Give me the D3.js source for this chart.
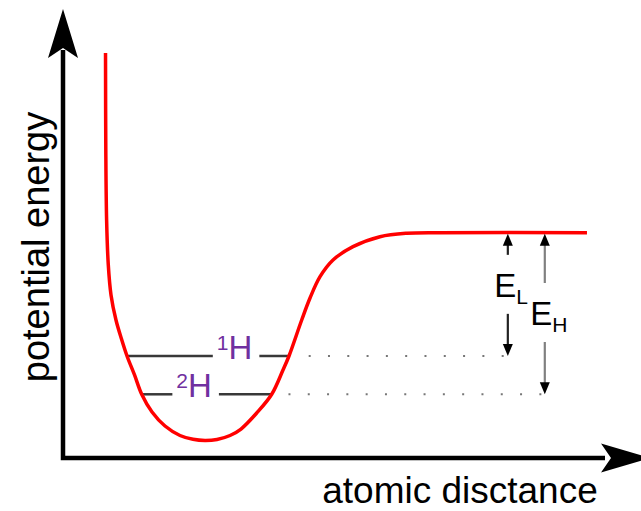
<!DOCTYPE html>
<html>
<head>
<meta charset="utf-8">
<script src="https://cdn.jsdelivr.net/npm/d3@7"></script>
<style>
  html, body { margin: 0; padding: 0; background: #fff; }
  svg { display: block; }
  text { font-family: "Liberation Sans", Arial, Helvetica, sans-serif; }
</style>
</head>
<body>
<script>
// ---- data (abstract units: distance 0..10, energy 0..10) ----
const curveX = [0.736, 0.741, 0.755, 0.784, 0.831, 0.917, 1.013, 1.108, 1.238, 1.362, 1.541, 1.766, 2.025, 2.25, 2.458,
                2.666, 2.891, 3.081, 3.353, 3.613, 3.808, 3.912, 4.132, 4.276, 4.449, 4.674, 5.02, 5.487, 5.949, 6.526, 9.07];
const curveY = [9.04, 6.875, 5.31, 4.31, 3.64, 3.08, 2.655, 2.277, 1.853, 1.422, 1.027, 0.714, 0.502, 0.417, 0.39,
                0.413, 0.502, 0.647, 1.004, 1.422, 1.964, 2.277, 3.08, 3.571, 4.047, 4.42, 4.717, 4.94, 5.016, 5.029, 5.029];

const isotopes     = ["1", "2"];          // mass numbers
const isotopeSym   = ["H", "H"];
const levelEnergy  = [2.277, 1.422];      // zero-point levels
const levelLeftX   = [1.108, 1.362];      // where level meets curve (left)
const levelRightX  = [3.912, 3.613];      // where level meets curve (right)
const labelCenterX = [2.97, 2.27];
const dotStartX    = [4.27, 3.92];

const dissocEnergy = 5.029;
const energyNames  = ["L", "H"];          // E_L, E_H
const energyArrowX = [7.70, 8.34];
const energyLevelIdx = [0, 1];

const xTitle = "atomic disctance";
const yTitle = "potential energy";

// ---- layout ----
const W = 641, H = 511;
const xs = d3.scaleLinear().domain([0, 10]).range([63, 640.7]);
const ys = d3.scaleLinear().domain([0, 10]).range([458, 10]);

const svg = d3.select("body").append("svg").attr("width", W).attr("height", H);
svg.append("rect").attr("width", W).attr("height", H).attr("fill", "#fff");

// axes
const ox = xs(0), oy = ys(0);
svg.append("path")
  .attr("d", `M${ox},50 V${oy} H605`)
  .attr("fill", "none").attr("stroke", "#000").attr("stroke-width", 4.5)
  .attr("stroke-linejoin", "miter");
svg.append("path")
  .attr("d", `M${ox},9 L${ox + 15},58 L${ox},48 L${ox - 15},58 Z`)
  .attr("fill", "#000");
svg.append("path")
  .attr("d", `M650,${oy} L601,${oy - 14.5} L611,${oy} L601,${oy + 14.5} Z`)
  .attr("fill", "#000");

// axis titles
svg.append("text").attr("x", 460).attr("y", 503).attr("text-anchor", "middle")
  .attr("font-size", 37).attr("fill", "#000").text(xTitle);
svg.append("text").attr("transform", "translate(48.5,247) rotate(-90)")
  .attr("text-anchor", "middle").attr("font-size", 38).attr("fill", "#000").text(yTitle);

// dotted extensions
isotopes.forEach((iso, i) => {
  const ai = energyLevelIdx.indexOf(i);
  svg.append("line")
    .attr("x1", xs(dotStartX[i]) - 1).attr("x2", xs(energyArrowX[ai]))
    .attr("y1", ys(levelEnergy[i])).attr("y2", ys(levelEnergy[i]))
    .attr("stroke", "#777").attr("stroke-width", 2)
    .attr("stroke-dasharray", "2 17.3");
});

// level labels and lines
isotopes.forEach((iso, i) => {
  const y = ys(levelEnergy[i]);
  const t = svg.append("text")
    .attr("x", xs(labelCenterX[i])).attr("y", y + 3)
    .attr("text-anchor", "middle").attr("fill", "#7030a0");
  t.append("tspan").attr("font-size", 21).attr("dy", -9).text(iso);
  t.append("tspan").attr("font-size", 33).attr("dy", 9).text(isotopeSym[i]);
  const bb = t.node().getBBox();
  svg.append("line").attr("x1", xs(levelLeftX[i])).attr("x2", bb.x - 4)
    .attr("y1", y).attr("y2", y).attr("stroke", "#383838").attr("stroke-width", 2.5);
  svg.append("line").attr("x1", bb.x + bb.width + 7).attr("x2", xs(levelRightX[i]))
    .attr("y1", y).attr("y2", y).attr("stroke", "#383838").attr("stroke-width", 2.5);
});

// potential curve
const line = d3.line().x(d => xs(d[0])).y(d => ys(d[1])).curve(d3.curveCatmullRom.alpha(0.5));
svg.append("path")
  .datum(curveX.map((x, i) => [x, curveY[i]]))
  .attr("d", line)
  .attr("fill", "none").attr("stroke", "#ff0000").attr("stroke-width", 3.5);

// energy arrows
energyNames.forEach((nm, i) => {
  const x = xs(energyArrowX[i]);
  const yTop = ys(dissocEnergy) + 1;
  const yBot = ys(levelEnergy[energyLevelIdx[i]]);
  const labelY = i === 0 ? (yTop + yBot) / 2 + 2 : (yTop + yBot) / 2 + 11;
  const shaft = i === 0 ? "#222" : "#808080";
  svg.append("line").attr("x1", x).attr("x2", x).attr("y1", yTop + 10).attr("y2", labelY - 42)
    .attr("stroke", shaft).attr("stroke-width", 2.2);
  svg.append("line").attr("x1", x).attr("x2", x).attr("y1", labelY + 17).attr("y2", yBot - 10)
    .attr("stroke", shaft).attr("stroke-width", 2.2);
  svg.append("path").attr("d", `M${x},${yTop} L${x + 5},${yTop + 12} L${x - 5},${yTop + 12} Z`).attr("fill", "#000");
  svg.append("path").attr("d", `M${x},${yBot} L${x + 5},${yBot - 12} L${x - 5},${yBot - 12} Z`).attr("fill", "#000");
  const t = svg.append("text").attr("x", x - (i === 0 ? 13.6 : 14.6)).attr("y", labelY).attr("fill", "#000");
  t.append("tspan").attr("font-size", 33).text("E");
  t.append("tspan").attr("font-size", 21).attr("dy", 7).text(nm);
});
</script>
</body>
</html>
